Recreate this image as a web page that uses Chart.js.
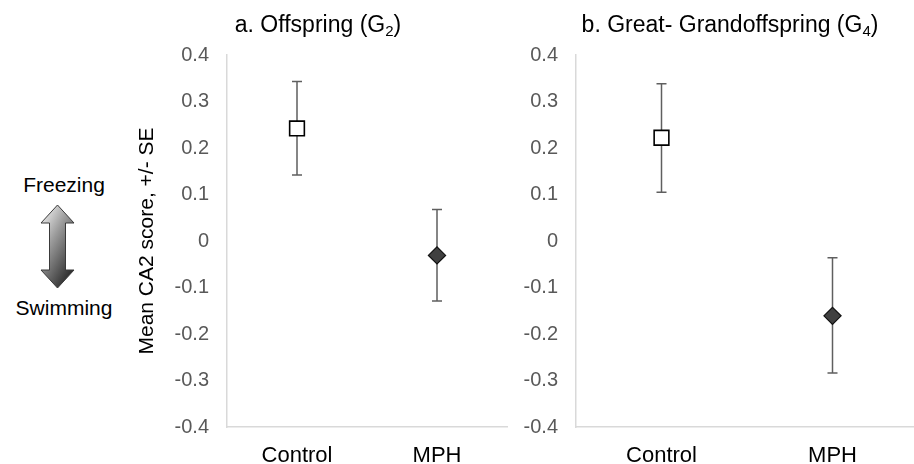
<!DOCTYPE html>
<html><head><meta charset="utf-8">
<script src="https://cdn.jsdelivr.net/npm/chart.js@4"></script>
<style>
html,body{margin:0;padding:0;background:#fff;overflow:hidden;width:914px;height:464px;font-family:"Liberation Sans",Arial,sans-serif;}
#wrap{position:relative;width:914px;height:464px;overflow:hidden;}
canvas{position:absolute;top:0;display:block;}
#c1{left:133px;}
#c2{left:520px;}
#side{position:absolute;left:0;top:0;}
</style></head><body>
<div id="wrap">
<svg id="side" width="130" height="464" xmlns="http://www.w3.org/2000/svg">
  <defs>
    <linearGradient id="ag" x1="0" y1="0" x2="0.7" y2="1">
      <stop offset="0" stop-color="#ffffff"/>
      <stop offset="0.45" stop-color="#9a9a9a"/>
      <stop offset="1" stop-color="#2b2b2b"/>
    </linearGradient>
  </defs>
  <polygon points="57.5,205 74,223 65.5,223 65.5,270 74,270 57.5,288 41,270 49.5,270 49.5,223 41,223"
    fill="url(#ag)" stroke="#3a3a3a" stroke-width="1"/>
  <text x="64" y="192" font-family="Liberation Sans, Arial, sans-serif" font-size="21" text-anchor="middle" fill="#000">Freezing</text>
  <text x="64" y="315" font-family="Liberation Sans, Arial, sans-serif" font-size="21" text-anchor="middle" fill="#000">Swimming</text>
</svg>
<canvas id="c1" width="387" height="464"></canvas>
<canvas id="c2" width="400" height="464"></canvas>
</div>
<script>
// ---- data ----
const categories = ['Control', 'MPH'];
const yTickMin = -0.4;
const yTickMax = 0.4;
const yTickStep = 0.1;
const yAxisTitle = 'Mean CA2 score, +/- SE';

const titleA = ['a. Offspring (G', '2', ')'];
const offspringMean  = [0.242, -0.031];
const offspringLower = [0.142, -0.129];
const offspringUpper = [0.343, 0.068];

const titleB = ['b. Great- Grandoffspring (G', '4', ')'];
const greatMean  = [0.222, -0.161];
const greatLower = [0.105, -0.284];
const greatUpper = [0.338, -0.036];

// ---- helpers ----
const FONT = '"Liberation Sans", Arial, sans-serif';

function errorBarPlugin(lower, upper) {
  return {
    id: 'errbars',
    beforeDatasetsDraw(chart) {
      const xs = chart.scales.x, ys = chart.scales.y, ctx = chart.ctx;
      ctx.save();
      ctx.strokeStyle = '#5f5f5f';
      ctx.lineWidth = 1.5;
      for (let i = 0; i < lower.length; i++) {
        const x = xs.getPixelForValue(i);
        const yl = ys.getPixelForValue(lower[i]);
        const yu = ys.getPixelForValue(upper[i]);
        ctx.beginPath();
        ctx.moveTo(x, yl); ctx.lineTo(x, yu);
        ctx.moveTo(x - 5, yl); ctx.lineTo(x + 5, yl);
        ctx.moveTo(x - 5, yu); ctx.lineTo(x + 5, yu);
        ctx.stroke();
      }
      ctx.restore();
    }
  };
}

function titlePlugin(parts, cx) {
  return {
    id: 'paneltitle',
    afterDraw(chart) {
      const ctx = chart.ctx;
      ctx.save();
      ctx.fillStyle = '#000';
      ctx.textBaseline = 'alphabetic';
      ctx.textAlign = 'left';
      const big = '23px ' + FONT, small = '15px ' + FONT;
      ctx.font = big; const w1 = ctx.measureText(parts[0]).width;
      ctx.font = small; const w2 = ctx.measureText(parts[1]).width;
      ctx.font = big; const w3 = ctx.measureText(parts[2]).width;
      let x = cx - (w1 + w2 + w3) / 2;
      const base = 32;
      ctx.font = big; ctx.fillText(parts[0], x, base); x += w1;
      ctx.font = small; ctx.fillText(parts[1], x, base + 4); x += w2;
      ctx.font = big; ctx.fillText(parts[2], x, base);
      ctx.restore();
    }
  };
}

function makeChart(id, means, lower, upper, title, titleCx, yWidth, padRight, showYTitle) {
  return new Chart(document.getElementById(id), {
    type: 'line',
    data: {
      labels: categories,
      datasets: [{
        data: means,
        showLine: false,
        clip: false,
        pointStyle: ['rect', 'rectRot'],
        pointRadius: [10.4, 8.6],
        pointHoverRadius: [10.4, 8.6],
        pointBackgroundColor: ['#ffffff', '#404040'],
        pointBorderColor: ['#000000', '#111111'],
        pointBorderWidth: [1.6, 1.2]
      }]
    },
    options: {
      responsive: false,
      animation: false,
      events: [],
      layout: { autoPadding: false, padding: { top: 55, right: padRight, bottom: 0, left: 0 } },
      plugins: { legend: { display: false }, tooltip: { enabled: false }, title: { display: false } },
      scales: {
        x: {
          type: 'category',
          offset: true,
          grid: { display: true, drawOnChartArea: false, drawTicks: false },
          border: { display: true, color: '#d9d9d9', width: 1.5 },
          ticks: { color: '#000', font: { family: FONT, size: 22 }, padding: 16, maxRotation: 0 },
          afterFit(s) { s.height = 37; s.paddingLeft = 0; s.paddingRight = 0; }
        },
        y: {
          min: yTickMin, max: yTickMax,
          grid: { display: true, drawOnChartArea: false, drawTicks: false },
          border: { display: true, color: '#d9d9d9', width: 1.5 },
          ticks: {
            stepSize: yTickStep,
            color: '#595959',
            font: { family: FONT, size: 20 },
            padding: 18,
            callback: v => String(parseFloat(Number(v).toFixed(1)))
          },
          title: {
            display: showYTitle,
            text: yAxisTitle,
            color: '#000',
            font: { family: FONT, size: 21 },
            padding: { top: 2, bottom: 0 }
          },
          afterFit(s) { s.width = yWidth; }
        }
      }
    },
    plugins: [errorBarPlugin(lower, upper), titlePlugin(title, titleCx)]
  });
}

makeChart('c1', offspringMean, offspringLower, offspringUpper, titleA, 318 - 133, 94, 13, true);
makeChart('c2', greatMean, greatLower, greatUpper, titleB, 730 - 520, 56, 2, false);
</script>
</body></html>
